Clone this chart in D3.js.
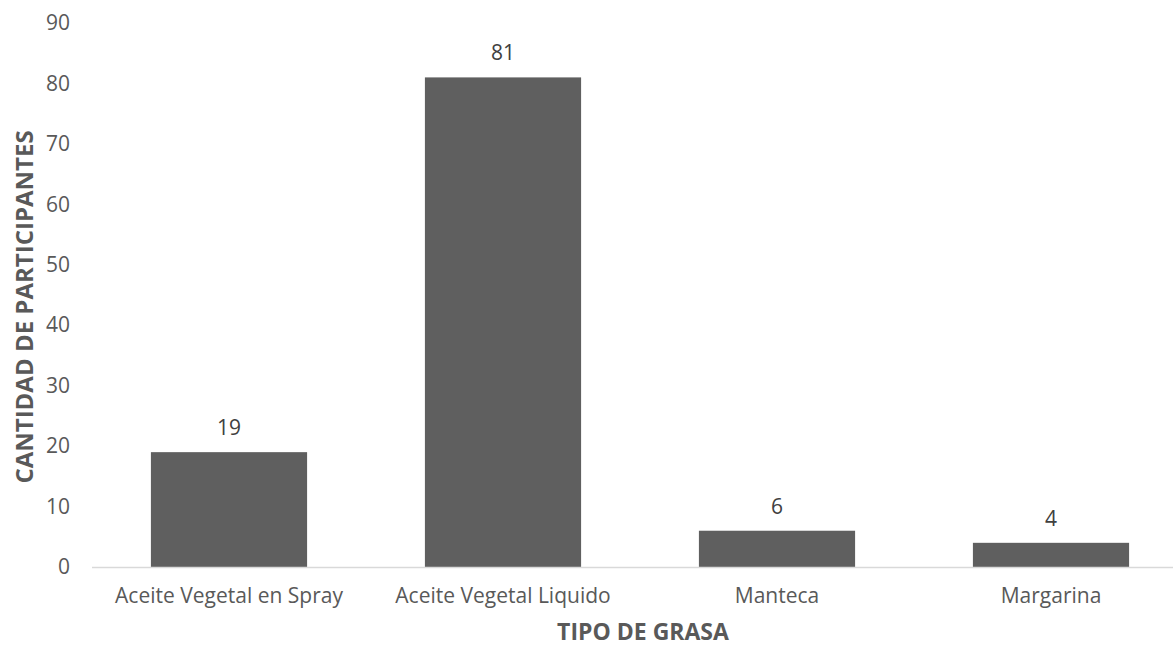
<!DOCTYPE html>
<html>
<head>
<meta charset="utf-8">
<script src="https://cdn.jsdelivr.net/npm/d3@7"></script>
<style>
  body { margin: 0; background: #fff; }
  text { font-family: "Open Sans", sans-serif; }
</style>
</head>
<body>
<div id="chart"></div>
<script>
const categories = ["Aceite Vegetal en Spray", "Aceite Vegetal Liquido", "Manteca", "Margarina"];
const values = [19, 81, 6, 4];
const yTicks = [0, 10, 20, 30, 40, 50, 60, 70, 80, 90];

const W = 1173, H = 648;
const x0 = 92, x1 = 1188, yBase = 567, yTop = 23;

const svg = d3.select("#chart").append("svg")
  .attr("width", W)
  .attr("height", H);

const x = d3.scaleBand()
  .domain(categories)
  .range([x0, x1])
  .paddingInner(0.43)
  .paddingOuter(0.215);

const y = d3.scaleLinear()
  .domain([0, 90])
  .range([yBase, yTop]);

// bars
svg.selectAll("rect.bar")
  .data(categories)
  .enter()
  .append("rect")
  .attr("class", "bar")
  .attr("x", d => x(d))
  .attr("y", (d, i) => y(values[i]))
  .attr("width", x.bandwidth())
  .attr("height", (d, i) => yBase - y(values[i]))
  .attr("fill", "#5f5f5f");

// baseline
svg.append("line")
  .attr("x1", x0).attr("x2", x1)
  .attr("y1", yBase + 0.5).attr("y2", yBase + 0.5)
  .attr("stroke", "#d9d9d9")
  .attr("stroke-width", 1.3);

// y tick labels
const yAxis = svg.append("g")
  .attr("transform", `translate(${x0}, 0)`)
  .call(d3.axisLeft(y).tickValues(yTicks).tickSize(0).tickPadding(22));
yAxis.select(".domain").remove();
yAxis.selectAll("text")
  .style("font-size", "21px")
  .style("font-family", "'Open Sans', sans-serif")
  .attr("fill", "#595959");

// x labels
const xAxis = svg.append("g")
  .attr("transform", `translate(0, ${yBase})`)
  .call(d3.axisBottom(x).tickSize(0).tickPadding(0));
xAxis.select(".domain").remove();
xAxis.selectAll("text")
  .attr("dy", null)
  .attr("y", 36)
  .style("font-size", "21px")
  .style("font-family", "'Open Sans', sans-serif")
  .attr("fill", "#595959");

// data labels
svg.selectAll("text.val")
  .data(categories)
  .enter()
  .append("text")
  .attr("class", "val")
  .attr("x", d => x(d) + x.bandwidth() / 2)
  .attr("y", (d, i) => y(values[i]) - 17)
  .attr("text-anchor", "middle")
  .style("font-size", "21px")
  .attr("fill", "#404040")
  .text((d, i) => values[i]);

// axis titles
svg.append("text")
  .attr("x", 643)
  .attr("y", 640)
  .attr("text-anchor", "middle")
  .style("font-size", "23px")
  .style("font-weight", "bold")
  .attr("fill", "#595959")
  .text("TIPO DE GRASA");

svg.append("text")
  .attr("transform", "rotate(-90)")
  .attr("x", -307)
  .attr("y", 33)
  .attr("text-anchor", "middle")
  .style("font-size", "24px")
  .style("font-weight", "bold")
  .attr("fill", "#595959")
  .text("CANTIDAD DE PARTICIPANTES");
</script>
</body>
</html>
